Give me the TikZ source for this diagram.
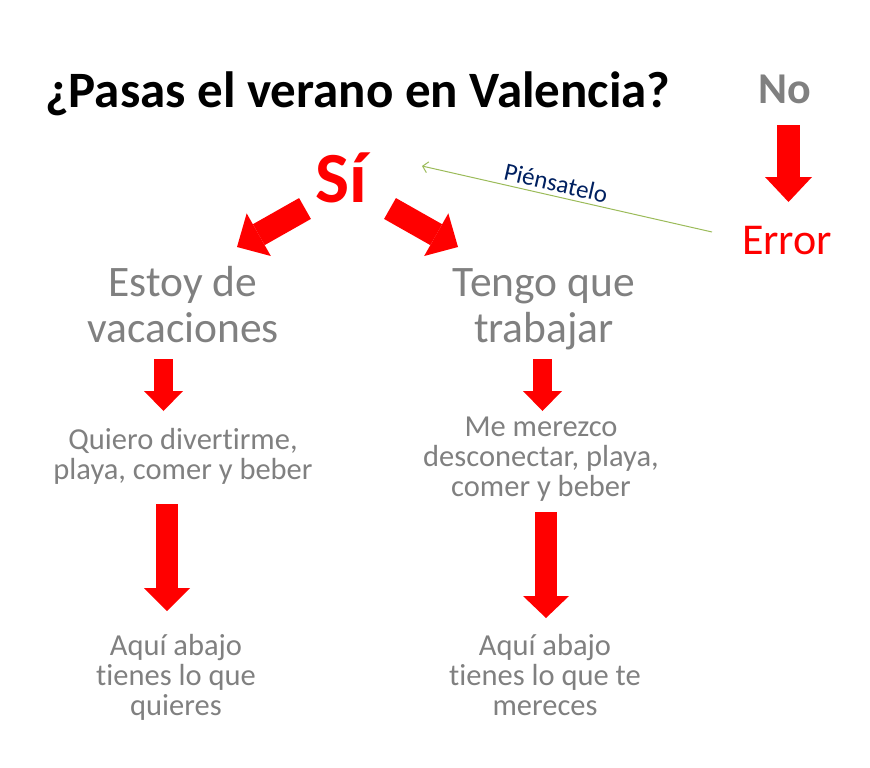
\documentclass[tikz,border=0pt]{standalone}
\usepackage{fontspec}
\setmainfont[Ligatures=NoCommon]{Carlito}
\usetikzlibrary{arrows.meta}
\definecolor{txtgray}{RGB}{128,128,128}
\definecolor{pgreen}{RGB}{155,187,89}
\definecolor{pnavy}{RGB}{0,32,96}
\definecolor{pred}{RGB}{255,0,0}
\begin{document}
\begin{tikzpicture}[x=1pt,y=-1pt,
  lbl/.style={inner sep=0pt, align=center, text=txtgray},
  bigtxt/.style={lbl, font=\fontsize{43.5}{46}\selectfont},
  smalltxt/.style={lbl, font=\fontsize{30.5}{30}\selectfont},
  fatarrow/.style n args={3}{draw=pred, line width=#1,
     -{Triangle[width=#2, length=#3, line width=0pt]}},
  hint/.style={draw=pgreen, line width=1pt, -{Straight Barb[length=5pt, width=11pt]}}
]
\useasboundingbox (0,0) rectangle (870,768);

% headings
\node[anchor=base west, inner sep=0pt, font=\bfseries\fontsize{51}{56}\selectfont] (title) at (45,107) {¿Pasas el verano en Valencia?};
\node[anchor=base, inner sep=0pt, text=txtgray, font=\bfseries\fontsize{44}{48}\selectfont] (no) at (785,103) {No};
\node[anchor=base, inner sep=0pt, text=pred, font=\bfseries\fontsize{72}{76}\selectfont] (si) at (341,202) {Sí};
\node[anchor=base, inner sep=0pt, text=pred, font=\fontsize{44}{48}\selectfont] (error) at (787,254) {Error};

% branches
\node[bigtxt, anchor=north] (vac) at (183,266) {Estoy de\\vacaciones};
\node[bigtxt, anchor=north] (trab) at (544,268) {Tengo que\\trabajar};
\node[smalltxt, anchor=north] (quiero) at (183,428) {Quiero divertirme,\\playa, comer y beber};
\node[smalltxt, anchor=north] (merezco) at (541,417) {Me merezco\\desconectar, playa,\\comer y beber};
\node[smalltxt, anchor=north] (aqui1) at (176,634) {Aquí abajo\\tienes lo que\\quieres};
\node[smalltxt, anchor=north] (aqui2) at (545,634) {Aquí abajo\\tienes lo que te\\mereces};

% arrow end points
\coordinate (siL) at (305,208.5);  \coordinate (vacT) at (237,247);
\coordinate (siR) at (390,208.5);  \coordinate (trabT) at (458,247);
\coordinate (noB) at (788.5,125);  \coordinate (errT) at (788.5,202);
\coordinate (vacB) at (163.5,359); \coordinate (quieroT) at (163.5,411);
\coordinate (quieroB) at (167,504); \coordinate (aqui1T) at (167,611);
\coordinate (trabB) at (542.5,359); \coordinate (merezcoT) at (542.5,411);
\coordinate (merezcoB) at (546,512); \coordinate (aqui2T) at (546,618);
\coordinate (errL) at (712,232);   \coordinate (siE) at (422,166);

\draw[fatarrow={24pt}{49pt}{25pt}] (siL) -- (vacT);
\draw[fatarrow={24pt}{49pt}{25pt}] (siR) -- (trabT);
\draw[fatarrow={23pt}{47pt}{25pt}] (noB) -- (errT);
\draw[fatarrow={19pt}{39pt}{20pt}] (vacB) -- (quieroT);
\draw[fatarrow={22pt}{46pt}{23pt}] (quieroB) -- (aqui1T);
\draw[fatarrow={19pt}{39pt}{20pt}] (trabB) -- (merezcoT);
\draw[fatarrow={22pt}{46pt}{22pt}] (merezcoB) -- (aqui2T);

\draw[hint] (errL) -- (siE);
\node[inner sep=0pt, text=pnavy, rotate=-12.8, font=\fontsize{25}{27}\selectfont] (piensa) at (556,183) {Piénsatelo};
\end{tikzpicture}
\end{document}
